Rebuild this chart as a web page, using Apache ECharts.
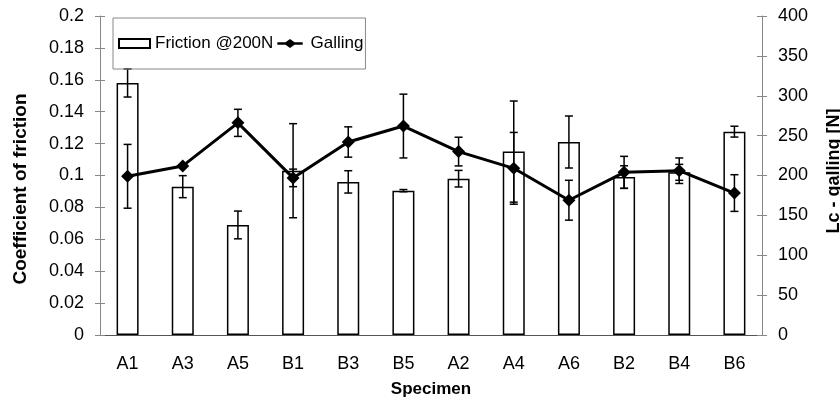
<!DOCTYPE html>
<html>
<head>
<meta charset="utf-8">
<script src="https://cdn.jsdelivr.net/npm/echarts@6/dist/echarts.min.js"></script>
<style>
  html, body {margin: 0; padding: 0; background: #fff;}
  #chart {width: 840px; height: 403px;}
</style>
</head>
<body>
<div id="chart"></div>
<script>
const categories = ['A1', 'A3', 'A5', 'B1', 'B3', 'B5', 'A2', 'A4', 'A6', 'B2', 'B4', 'B6'];
const friction = [0.158, 0.093, 0.069, 0.103, 0.096, 0.0905, 0.098, 0.115, 0.121, 0.099, 0.102, 0.1275];
const frictionErr = [0.0088, 0.0069, 0.0087, 0.0295, 0.007, 0.0007, 0.0052, 0.0317, 0.0163, 0.0071, 0.005, 0.0034];
const galling = [199, 212, 266, 197, 242, 262, 230, 209, 169, 204, 206, 178];
const gallingErr = [40, 0, 17, 11, 19, 40, 18, 45, 25, 20, 16, 23];

const font = '"Liberation Sans", Arial, sans-serif';
const gray = '#888';

// error bars: [index, low, high]
const errData = (vals, errs) => vals.map((v, i) => [i, v - errs[i], v + errs[i]]);

const errRender = (params, api) => {
  const lo = api.coord([api.value(0), api.value(1)]);
  const hi = api.coord([api.value(0), api.value(2)]);
  const hw = 4;
  const st = {stroke: '#000', lineWidth: 1.5};
  return {
    type: 'group',
    children: [
      {type: 'line', shape: {x1: hi[0], y1: hi[1], x2: lo[0], y2: lo[1]}, style: st},
      {type: 'line', shape: {x1: hi[0] - hw, y1: hi[1], x2: hi[0] + hw, y2: hi[1]}, style: st},
      {type: 'line', shape: {x1: lo[0] - hw, y1: lo[1], x2: lo[0] + hw, y2: lo[1]}, style: st}
    ]
  };
};

// legend icon for the line series: thick line with a diamond in the middle
const lineIcon = 'path://M0,4L10,4L15.5,0L21,4L31,4L31,7L21,7L15.5,11L10,7L0,7Z';

const chart = echarts.init(document.getElementById('chart'));
chart.setOption({
  animation: false,
  textStyle: {fontFamily: font, color: '#000'},
  grid: {left: 100, right: 78, top: 16, bottom: 68, outerBoundsMode: 'none'},
  legend: {
    left: 113,
    top: 18,
    padding: [17, 2, 17, 5],
    itemGap: 4,
    itemWidth: 31,
    itemHeight: 9,
    borderColor: gray,
    borderWidth: 1,
    textStyle: {fontSize: 17, color: '#000', fontFamily: font},
    data: [
      {name: 'Friction @200N', icon: 'rect'},
      {name: 'Galling', icon: lineIcon, itemStyle: {color: '#000', borderWidth: 0}}
    ]
  },
  xAxis: [
    {
      type: 'category',
      data: categories,
      position: 'bottom',
      axisLine: {lineStyle: {color: gray, width: 1}},
      axisTick: {length: 5, lineStyle: {color: gray}},
      axisLabel: {fontSize: 18, color: '#000', margin: 20},
      name: 'Specimen',
      nameLocation: 'middle',
      nameGap: 46,
      nameTextStyle: {fontSize: 17, fontWeight: 'bold', color: '#000'}
    },
    {
      type: 'category',
      data: categories,
      position: 'top',
      axisLine: {lineStyle: {color: '#555', width: 1}},
      axisTick: {show: false},
      axisLabel: {show: false}
    },
    {
      type: 'category',
      data: categories,
      position: 'bottom',
      axisLine: {show: false},
      axisTick: {inside: true, length: 5, lineStyle: {color: gray}},
      axisLabel: {show: false}
    }
  ],
  yAxis: [
    {
      type: 'value',
      position: 'left',
      min: 0,
      max: 0.2,
      interval: 0.02,
      axisLine: {show: true, lineStyle: {color: gray}},
      axisTick: {show: true, length: 5, lineStyle: {color: gray}},
      axisLabel: {fontSize: 18, color: '#000', margin: 16},
      splitLine: {show: false}
    },
    {
      type: 'value',
      position: 'right',
      min: 0,
      max: 400,
      interval: 50,
      axisLine: {show: true, lineStyle: {color: gray}},
      axisTick: {show: true, length: 5, lineStyle: {color: gray}},
      axisLabel: {fontSize: 18, color: '#000', margin: 16},
      splitLine: {show: false}
    },
    {
      type: 'value',
      position: 'left',
      min: 0,
      max: 0.2,
      interval: 0.02,
      axisLine: {show: false},
      axisTick: {show: true, inside: true, length: 5, lineStyle: {color: gray}},
      axisLabel: {show: false},
      splitLine: {show: false}
    },
    {
      type: 'value',
      position: 'right',
      min: 0,
      max: 400,
      interval: 50,
      axisLine: {show: false},
      axisTick: {show: true, inside: true, length: 5, lineStyle: {color: gray}},
      axisLabel: {show: false},
      splitLine: {show: false}
    }
  ],
  graphic: [
    {
      type: 'text',
      x: 21,
      y: 189,
      rotation: Math.PI / 2,
      style: {text: 'Coefficient of friction', fontSize: 19, fontWeight: 'bold', fontFamily: font, fill: '#000', align: 'center', verticalAlign: 'middle'}
    },
    {
      type: 'text',
      x: 834,
      y: 171,
      rotation: Math.PI / 2,
      style: {text: 'Lc - galling [N]', fontSize: 18, fontWeight: 'bold', fontFamily: font, fill: '#000', align: 'center', verticalAlign: 'middle'}
    }
  ],
  series: [
    {
      name: 'Friction @200N',
      type: 'bar',
      data: friction,
      barWidth: 22,
      itemStyle: {color: '#fff', borderColor: '#000', borderWidth: 1.5},
      z: 2
    },
    {
      type: 'custom',
      data: errData(friction, frictionErr),
      renderItem: errRender,
      encode: {x: 0, y: [1, 2]},
      z: 3
    },
    {
      name: 'Galling',
      type: 'line',
      yAxisIndex: 1,
      data: galling,
      symbol: 'diamond',
      symbolSize: 13,
      lineStyle: {color: '#000', width: 3},
      itemStyle: {color: '#000'},
      z: 4
    },
    {
      type: 'custom',
      yAxisIndex: 1,
      data: errData(galling, gallingErr),
      renderItem: errRender,
      encode: {x: 0, y: [1, 2]},
      z: 5
    }
  ]
});
</script>
</body>
</html>
